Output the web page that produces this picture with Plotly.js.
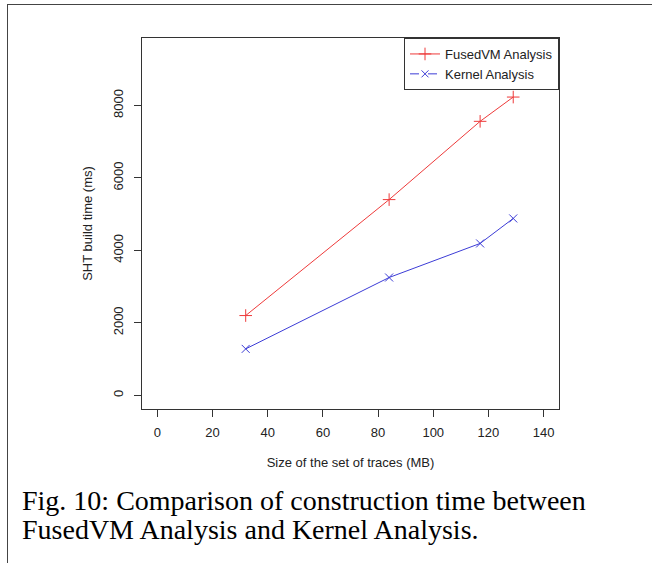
<!DOCTYPE html>
<html>
<head>
<meta charset="utf-8">
<script src="https://cdn.plot.ly/plotly-3.0.1.min.js"></script>
<style>
  html, body { margin: 0; padding: 0; background: #fff; }
  #wrap { position: relative; width: 652px; height: 563px; overflow: hidden; }
  #plot { position: absolute; left: 0; top: 0; width: 652px; height: 563px; }
  #frameTop { position: absolute; left: 7px; top: 4px; width: 645px; height: 0; border-top: 1.5px solid #444; }
  #frameLeft { position: absolute; left: 7px; top: 4px; width: 0; height: 559px; border-left: 1.5px solid #444; }
  #caption { position: absolute; left: 22px; top: 486px; font-family: "Liberation Serif", "Times New Roman", serif; font-size: 28px; line-height: 29px; color: #000; white-space: nowrap; }
</style>
</head>
<body>
<div id="wrap">
  <div id="plot"></div>
  <div id="frameTop"></div>
  <div id="frameLeft"></div>
  <div id="caption">Fig. 10: Comparison of construction time between<br>FusedVM Analysis and Kernel Analysis.</div>
</div>
<script>
// Data
const traceSizeMB = [32, 84, 117, 129];
const fusedVMTime = [2200, 5400, 7560, 8230];
const kernelTime  = [1280, 3250, 4190, 4880];
const seriesNames = ["FusedVM Analysis", "Kernel Analysis"];
const xTicks = [0, 20, 40, 60, 80, 100, 120, 140];
const yTicks = [0, 2000, 4000, 6000, 8000];

const redC = "#ee3a3a";
const blueC = "#3c3cd6";
const fam = "Liberation Sans, Arial, sans-serif";

const traces = [
  { x: traceSizeMB, y: fusedVMTime, mode: "lines+markers", showlegend: false,
    line: { color: redC, width: 1 },
    marker: { symbol: "cross-thin-open", size: 9, color: redC, line: { color: redC, width: 1 } } },
  { x: traceSizeMB, y: kernelTime, mode: "lines+markers", showlegend: false,
    line: { color: blueC, width: 1 },
    marker: { symbol: "x-thin-open", size: 8, color: blueC, line: { color: blueC, width: 1 } } },
  // legend entries (legend in the reference shows the Kernel line dashed)
  { x: [null], y: [null], mode: "lines+markers", name: seriesNames[0],
    line: { color: redC, width: 1 },
    marker: { symbol: "cross-thin-open", size: 9, color: redC, line: { color: redC, width: 1 } } },
  { x: [null], y: [null], mode: "lines+markers", name: seriesNames[1],
    line: { color: blueC, width: 1, dash: "dash" },
    marker: { symbol: "x-thin-open", size: 7, color: blueC, line: { color: blueC, width: 1 } } }
];

const axisFont = { family: fam, size: 13, color: "#222" };

const layout = {
  width: 652, height: 563,
  margin: { l: 142, r: 93, t: 38, b: 154 },
  paper_bgcolor: "#fff", plot_bgcolor: "#fff",
  font: axisFont,
  showlegend: true,
  legend: {
    x: 1, xanchor: "right", y: 1, yanchor: "top",
    bgcolor: "#fff", bordercolor: "#333", borderwidth: 1,
    font: { family: fam, size: 13, color: "#222" },
    itemwidth: 30, tracegroupgap: 0
  },
  xaxis: {
    range: [-5.6, 145.6], tickvals: xTicks, ticktext: xTicks.map(String),
    showgrid: false, zeroline: false,
    showline: true, linecolor: "#333", linewidth: 1, mirror: true,
    ticks: "outside", ticklen: 7, tickcolor: "#333", tickwidth: 1,
    tickfont: axisFont, ticklabelstandoff: 4,
    title: { text: "Size of the set of traces (MB)", font: { family: fam, size: 13, color: "#222" }, standoff: 19 }
  },
  yaxis: {
    range: [-379, 9860], tickvals: yTicks, ticktext: yTicks.map(String),
    showgrid: false, zeroline: false,
    showline: true, linecolor: "#333", linewidth: 1, mirror: true,
    ticks: "outside", ticklen: 7, tickcolor: "#333", tickwidth: 1,
    tickangle: -90, tickfont: axisFont, ticklabelstandoff: 6,
    title: { text: "SHT build time (ms)", font: { family: fam, size: 13, color: "#222" }, standoff: 15 }
  }
};

Plotly.newPlot("plot", traces, layout, { displayModeBar: false, staticPlot: true });
</script>
</body>
</html>
